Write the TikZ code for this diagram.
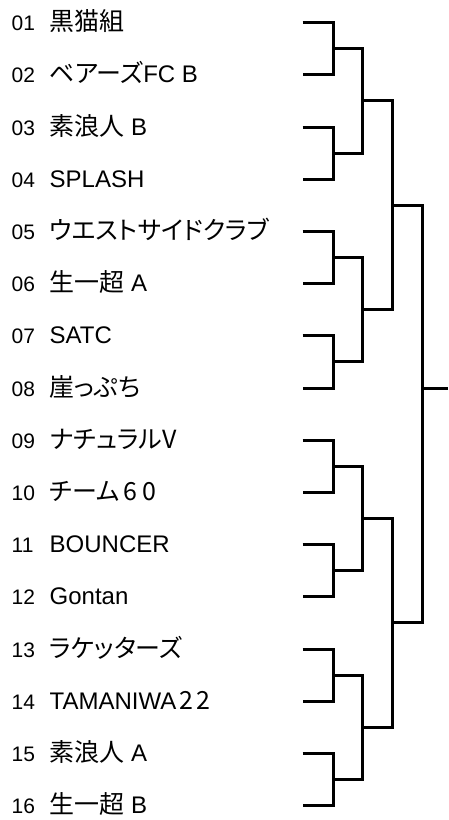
\documentclass[tikz,border=0pt]{standalone}
\usepackage{fontspec}
\setmainfont{Liberation Sans}
\newfontfamily\jpf[RawFeature=+palt,RawFeature=+pwid,Scale=1.04]{Noto Sans CJK JP}
\newcommand\jp{\jpf}
\tikzset{
  num/.style={anchor=base west, inner sep=0pt, font=\fontsize{21}{21}\selectfont},
  team/.style={anchor=base west, inner sep=0pt, font=\fontsize{24}{24}\selectfont},
  br/.style={line width=3pt, line join=miter, draw=black}
}
\begin{document}
\begin{tikzpicture}[x=1pt,y=-1pt]
\useasboundingbox (0,0) rectangle (448,820);
% entry line starts
\foreach \i in {1,...,16} \coordinate (e\i) at (302.5,{22.6+(\i-1)*52.2});
\foreach \k in {1,...,8} \coordinate (a\k) at (333,{22.6+(2*\k-1.5)*52.2});
\foreach \k in {1,...,4} \coordinate (b\k) at (362.5,{22.6+(4*\k-2.5)*52.2});
\foreach \k in {1,2} \coordinate (c\k) at (392,{22.6+(8*\k-4.5)*52.2});
\coordinate (d) at (422,388);
\coordinate (w) at (448,388);
% labels
\def\tb#1{{22.6+(#1-1)*52.2+8}}
\node[num] (n01) at (11.5,\tb{1}) {01};  \node[team] (t01) at (49.5,\tb{1}) {\jp 黒猫組};
\node[num] (n02) at (11.5,\tb{2}) {02};  \node[team] (t02) at (49.5,\tb{2}) {{\jp ベアーズ}FC B};
\node[num] (n03) at (11.5,\tb{3}) {03};  \node[team] (t03) at (49.5,\tb{3}) {{\jp 素浪人} B};
\node[num] (n04) at (11.5,\tb{4}) {04};  \node[team] (t04) at (49.5,\tb{4}) {SPLASH};
\node[num] (n05) at (11.5,\tb{5}) {05};  \node[team] (t05) at (49.5,\tb{5}) {\jp ウエストサイドクラブ};
\node[num] (n06) at (11.5,\tb{6}) {06};  \node[team] (t06) at (49.5,\tb{6}) {{\jp 生一超} A};
\node[num] (n07) at (11.5,\tb{7}) {07};  \node[team] (t07) at (49.5,\tb{7}) {SATC};
\node[num] (n08) at (11.5,\tb{8}) {08};  \node[team] (t08) at (49.5,\tb{8}) {\jp 崖っぷち};
\node[num] (n09) at (11.5,\tb{9}) {09};  \node[team] (t09) at (49.5,\tb{9}) {\jp ナチュラルＶ};
\node[num] (n10) at (11.5,\tb{10}) {10}; \node[team] (t10) at (49.5,\tb{10}) {\jp チーム\kern4pt ６\kern5pt ０};
\node[num] (n11) at (11.5,\tb{11}) {11}; \node[team] (t11) at (49.5,\tb{11}) {BOUNCER};
\node[num] (n12) at (11.5,\tb{12}) {12}; \node[team] (t12) at (49.5,\tb{12}) {Gontan};
\node[num] (n13) at (11.5,\tb{13}) {13}; \node[team] (t13) at (49.5,\tb{13}) {\jp ラケッターズ};
\node[num] (n14) at (11.5,\tb{14}) {14}; \node[team] (t14) at (49.5,\tb{14}) {TAMANIWA{\jp\kern3pt ２\kern3pt ２}};
\node[num] (n15) at (11.5,\tb{15}) {15}; \node[team] (t15) at (49.5,\tb{15}) {{\jp 素浪人} A};
\node[num] (n16) at (11.5,\tb{16}) {16}; \node[team] (t16) at (49.5,\tb{16}) {{\jp 生一超} B};
% bracket
\foreach \k [evaluate=\k as \p using int(2*\k-1), evaluate=\k as \q using int(2*\k)] in {1,...,8}
  \draw[br] (e\p) -| (a\k) |- (e\q);
\foreach \k [evaluate=\k as \p using int(2*\k-1), evaluate=\k as \q using int(2*\k)] in {1,...,4}
  \draw[br] (a\p) -| (b\k) |- (a\q);
\foreach \k [evaluate=\k as \p using int(2*\k-1), evaluate=\k as \q using int(2*\k)] in {1,2}
  \draw[br] (b\p) -| (c\k) |- (b\q);
\draw[br] (c1) -| (d) |- (c2);
\draw[br] (d) -- (w);
\end{tikzpicture}
\end{document}
